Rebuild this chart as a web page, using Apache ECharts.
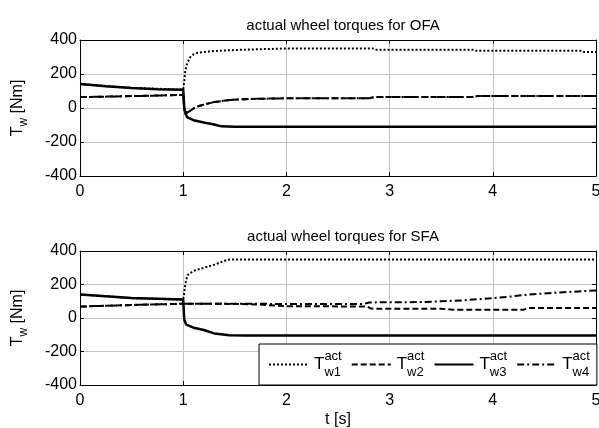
<!DOCTYPE html>
<html>
<head>
<meta charset="utf-8">
<script src="https://cdn.jsdelivr.net/npm/echarts@6/dist/echarts.min.js"></script>
<style>
  html, body { margin: 0; padding: 0; background: #fff; }
  #chart { width: 599px; height: 428px; }
</style>
</head>
<body>
<div id="chart"></div>
<script>
// tick labels
const xTicks = [0, 1, 2, 3, 4, 5]
const yTicks = [-400, -200, 0, 200, 400]

// OFA (top) — time stamps [s] and torques [Nm]
const ofaW1T = [0, 0.5, 1.0, 1.01, 1.02, 1.04, 1.07, 1.1, 1.14, 1.2, 1.3, 1.45, 1.7, 2.0, 2.84, 2.86, 3.82, 3.84, 4.86, 4.88, 5]
const ofaW1 = [141, 118, 108, 150, 220, 265, 300, 315, 325, 330, 335, 340, 345, 350, 350, 343, 343, 337, 337, 330, 330]
const ofaW2T = [0, 0.5, 1.0, 1.005, 1.01, 1.03, 1.07, 1.12, 1.2, 1.3, 1.45, 1.6, 1.8, 2.0, 2.8, 2.85, 3.8, 3.85, 5]
const ofaW2 = [64, 70, 77, 40, -10, -30, -15, 5, 20, 35, 47, 52, 55, 57, 57, 64, 64, 70, 70]
const ofaW3T = [0, 0.25, 0.5, 0.75, 1.0, 1.005, 1.01, 1.02, 1.04, 1.1, 1.2, 1.3, 1.37, 1.5, 2.0, 5]
const ofaW3 = [141, 128, 118, 111, 108, 60, 0, -30, -55, -72, -85, -97, -108, -110, -110, -110]
const ofaW4T = [0, 0.5, 1.0, 1.005, 1.01, 1.03, 1.07, 1.12, 1.2, 1.3, 1.45, 1.6, 1.8, 2.0, 2.8, 2.85, 3.8, 3.85, 5]
const ofaW4 = [64, 70, 77, 40, -10, -30, -15, 5, 20, 35, 47, 52, 55, 57, 57, 64, 64, 70, 70]

// SFA (bottom)
const sfaW1T = [0, 0.5, 1.0, 1.01, 1.02, 1.04, 1.1, 1.2, 1.3, 1.43, 1.5, 5]
const sfaW1 = [141, 118, 110, 150, 200, 255, 282, 300, 318, 348, 350, 350]
const sfaW2T = [0, 0.5, 1.0, 1.2, 1.5, 1.75, 2.0, 2.78, 2.82, 3.5, 3.6, 4.3, 4.35, 5]
const sfaW2 = [68, 78, 85, 85, 84, 80, 70, 69, 56, 55, 50, 50, 60, 60]
const sfaW3T = [0, 0.5, 1.0, 1.005, 1.01, 1.03, 1.1, 1.2, 1.3, 1.45, 1.6, 5]
const sfaW3 = [141, 120, 110, 50, -10, -40, -58, -72, -92, -103, -105, -105]
const sfaW4T = [0, 0.5, 1.0, 1.5, 2.0, 2.75, 2.8, 3.3, 3.5, 3.7, 4.0, 4.2, 4.36, 4.68, 5]
const sfaW4 = [68, 78, 85, 85, 84, 84, 93, 95, 100, 105, 118, 130, 141, 154, 164]

const font = 'Liberation Sans, Arial, sans-serif'
const styles = {
  w1: [2, 2],
  w2: [6, 3],
  w3: 'solid',
  w4: [7, 3, 2, 3]
}

function pairs (t, v) {
  return t.map((x, i) => [x, v[i]])
}

function makeSeries (name, key, t, v, gridIdx) {
  return {
    name: name,
    type: 'line',
    xAxisIndex: gridIdx * 2,
    yAxisIndex: gridIdx * 2,
    symbol: 'none',
    data: pairs(t, v),
    lineStyle: { color: '#000', width: key === 'w3' ? 2.5 : 2, type: styles[key] },
    itemStyle: { color: '#000' }
  }
}

const frameLine = { show: true, onZero: false, lineStyle: { color: '#000', width: 1 } }
const frameTick = { show: true, inside: true, length: 4, lineStyle: { color: '#000' } }

function mainX (gridIdx, withName) {
  return {
    type: 'value', gridIndex: gridIdx, min: 0, max: 5, interval: 1,
    position: 'bottom',
    axisLine: frameLine,
    axisTick: frameTick,
    axisLabel: { color: '#000', fontSize: 16, fontFamily: font, margin: 8 },
    splitLine: { show: true, lineStyle: { color: '#c4c4c4', width: 1 } },
    name: withName ? 't [s]' : '',
    nameLocation: 'middle',
    nameGap: 27,
    nameTextStyle: { color: '#000', fontSize: 16, fontFamily: font }
  }
}
function sideX (gridIdx) {
  return {
    type: 'value', gridIndex: gridIdx, min: 0, max: 5, interval: 1,
    position: 'top',
    axisLine: frameLine,
    axisTick: frameTick,
    axisLabel: { show: false },
    splitLine: { show: false }
  }
}
function mainY (gridIdx) {
  return {
    type: 'value', gridIndex: gridIdx, min: -400, max: 400, interval: 200,
    position: 'left',
    axisLine: frameLine,
    axisTick: frameTick,
    axisLabel: { color: '#000', fontSize: 16, fontFamily: font, margin: 3 },
    splitLine: { show: true, lineStyle: { color: '#c4c4c4', width: 1 } },
    name: '{T|T}{w|w} [Nm]',
    nameLocation: 'middle',
    nameGap: 50,
    nameTextStyle: {
      color: '#000', fontSize: 16, fontFamily: font,
      rich: {
        T: { fontSize: 16, fontFamily: font, color: '#000', lineHeight: 24 },
        w: { fontSize: 12, fontFamily: font, color: '#000', verticalAlign: 'bottom', lineHeight: 14 }
      }
    }
  }
}
function sideY (gridIdx) {
  return {
    type: 'value', gridIndex: gridIdx, min: -400, max: 400, interval: 200,
    position: 'right',
    axisLine: frameLine,
    axisTick: frameTick,
    axisLabel: { show: false },
    splitLine: { show: false }
  }
}

const chart = echarts.init(document.getElementById('chart'))
chart.setOption({
  animation: false,
  backgroundColor: '#fff',
  title: [
    {
      text: 'actual wheel torques for OFA', left: 338, top: 13, textAlign: 'center',
      textStyle: { fontSize: 15, fontWeight: 'normal', color: '#000', fontFamily: font }
    },
    {
      text: 'actual wheel torques for SFA', left: 338, top: 224, textAlign: 'center',
      textStyle: { fontSize: 15, fontWeight: 'normal', color: '#000', fontFamily: font }
    }
  ],
  grid: [
    { left: 80, top: 40, width: 516, height: 136, outerBoundsMode: 'none' },
    { left: 80, top: 251, width: 516, height: 134, outerBoundsMode: 'none' }
  ],
  xAxis: [mainX(0, false), sideX(0), mainX(1, true), sideX(1)],
  yAxis: [mainY(0), sideY(0), mainY(1), sideY(1)],
  legend: {
    data: ['w1', 'w2', 'w3', 'w4'],
    orient: 'horizontal',
    left: 259,
    top: 344,
    width: 340,
    padding: [6, 7, 6, 9],
    itemGap: 9,
    itemWidth: 39,
    itemHeight: 14,
    backgroundColor: '#fff',
    borderColor: '#000',
    borderWidth: 1,
    borderRadius: 0,
    selectedMode: false,
    itemStyle: { opacity: 0 },
    formatter: function (name) {
      return '{T|T}{sup|act}{sub|' + name + '}'
    },
    textStyle: {
      color: '#000',
      fontFamily: font,
      rich: {
        T: { fontSize: 17, fontFamily: font, color: '#000', lineHeight: 29, padding: [0, 0, 0, 1] },
        sup: { fontSize: 13, fontFamily: font, color: '#000', width: 0, verticalAlign: 'top', lineHeight: 14 },
        sub: { fontSize: 13, fontFamily: font, color: '#000', width: 17, verticalAlign: 'bottom', lineHeight: 14 }
      }
    }
  },
  series: [
    makeSeries('OFA w4', 'w4', ofaW4T, ofaW4, 0),
    makeSeries('OFA w1', 'w1', ofaW1T, ofaW1, 0),
    makeSeries('OFA w2', 'w2', ofaW2T, ofaW2, 0),
    makeSeries('OFA w3', 'w3', ofaW3T, ofaW3, 0),
    makeSeries('w1', 'w1', sfaW1T, sfaW1, 1),
    makeSeries('w2', 'w2', sfaW2T, sfaW2, 1),
    makeSeries('w3', 'w3', sfaW3T, sfaW3, 1),
    makeSeries('w4', 'w4', sfaW4T, sfaW4, 1)
  ]
})
</script>
</body>
</html>
